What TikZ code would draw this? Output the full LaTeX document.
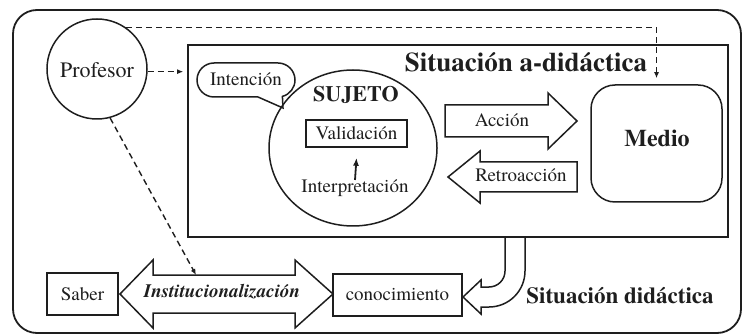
\documentclass[tikz,border=0pt]{standalone}
\usepackage{fontspec}
\IfFontExistsTF{texgyretermes-regular.otf}{%
\setmainfont{texgyretermes}[Extension=.otf, UprightFont=*-regular, BoldFont=*-bold, ItalicFont=*-italic, BoldItalicFont=*-bolditalic]}{%
\setmainfont{Liberation Serif}}
\usetikzlibrary{arrows.meta,shapes.geometric}
\definecolor{ink}{RGB}{30,30,30}
\begin{document}
\begin{tikzpicture}[x=1pt,y=-1pt,
  line/.style={draw=ink, line width=1.5pt},
  txt/.style={text=ink, font=\fontsize{19}{22}\selectfont, inner sep=0pt},
  boldtxt/.style={text=ink, font=\bfseries\fontsize{#1}{#1}\selectfont, inner sep=0pt},
  dashline/.style={draw=ink, line width=1.4pt, dash pattern=on 6pt off 4pt},
  tipa/.style={-{Latex[length=6pt,width=5pt]}},
  box/.style={draw=ink, line width=1.5pt, rectangle, inner sep=0pt, text=ink, font=\fontsize{19}{22}\selectfont},
  blockarrow/.style={draw=ink, line width=1.5pt, line join=miter},
]
\useasboundingbox (0,0) rectangle (743,336);
% frames
\node[draw=ink, line width=1.8pt, rounded corners=24pt, minimum width=728pt, minimum height=323pt, inner sep=0pt] (outer) at (377,171.5) {};
\node[draw=ink, line width=1.6pt, minimum width=540pt, minimum height=192pt, inner sep=0pt] (inner) at (458,141) {};
\node[boldtxt=27, anchor=base] (adid) at (526,72) {Situación a-didáctica};
% Profesor
\node[circle, draw=ink, line width=1.5pt, minimum size=100pt, inner sep=0pt] (prof) at (97,69) {};
\node[txt, font=\fontsize{22}{24}\selectfont, anchor=base] (proftxt) at (97,78) {Profesor};
% Medio
\node[draw=ink, line width=1.5pt, rounded corners=24pt, minimum width=131pt, minimum height=117pt, inner sep=0pt] (medio) at (656.5,143.5) {};
\node[boldtxt=24, anchor=base] (mediotxt) at (657,147) {Medio};
% Sujeto
\node[ellipse, draw=ink, line width=1.5pt, minimum width=168pt, minimum height=156pt, inner sep=0pt] (sujeto) at (353,148) {};
\node[boldtxt=22, anchor=base] (sujetotxt) at (356,102) {SUJETO};
\node[box, minimum width=101pt, minimum height=27pt] (valid) at (356.5,133.5) {Validación};
\node[txt, anchor=base] (interp) at (355,193) {Interpretación};
\draw[ink, line width=1.8pt, -{Latex[length=8pt,width=6pt]}] (interp.north) -- ([yshift=-10pt]valid.south);
% Intencion bubble
\draw[line] (258,97) -- (214,97) arc[start angle=90, end angle=270, radius=17] -- (278,63) arc[start angle=-90, end angle=75, radius=17] -- (283,108) -- cycle;
\node[txt, anchor=base] (intencion) at (246,86) {Intención};
% Accion / Retroaccion
\draw[blockarrow] (445,105) -- (548,105) -- (548,93) -- (577,121) -- (548,149) -- (548,137) -- (445,137) -- cycle;
\node[txt, anchor=base] (accion) at (502,127) {Acción};
\draw[blockarrow] (577,162) -- (480,162) -- (480,151) -- (448,177) -- (480,203) -- (480,192) -- (577,192) -- cycle;
\node[txt, anchor=base] (retro) at (521,182) {Retroacción};
% bottom row
\node[box, minimum width=71pt, minimum height=42pt] (saber) at (82.5,294) {Saber};
\node[box, minimum width=129pt, minimum height=42pt] (conoc) at (397.5,295) {conocimiento};
\draw[blockarrow] (120,294) -- (153,260) -- (153,275) -- (295,275) -- (295,260) -- (333,294) -- (295,328) -- (295,313) -- (153,313) -- (153,328) -- cycle;
\node[text=ink, font=\bfseries\itshape\fontsize{19}{22}\selectfont, inner sep=0pt, anchor=base] (inst) at (222,298) {Institucionalización};
\coordinate (insttop) at (196,275);
% U arrow
\draw[blockarrow] (505,237) -- (505,271) arc[start angle=0, end angle=90, radius=16] -- (481,287) -- (481,280) -- (463,297) -- (481,314) -- (481,307) -- (489,307) arc[start angle=90, end angle=0, radius=36] -- (525,237);
\node[boldtxt=23, anchor=base] (did) at (620,303) {Situación didáctica};
% dashed connectors
\draw[dashline, tipa, shorten >=6pt] (prof.55) -| (medio.north);
\draw[dashline, tipa, shorten >=4pt] (prof.-3) -- (prof.-3 -| inner.west);
\draw[dashline, tipa] (prof.-75) -- (insttop);
\end{tikzpicture}
\end{document}
